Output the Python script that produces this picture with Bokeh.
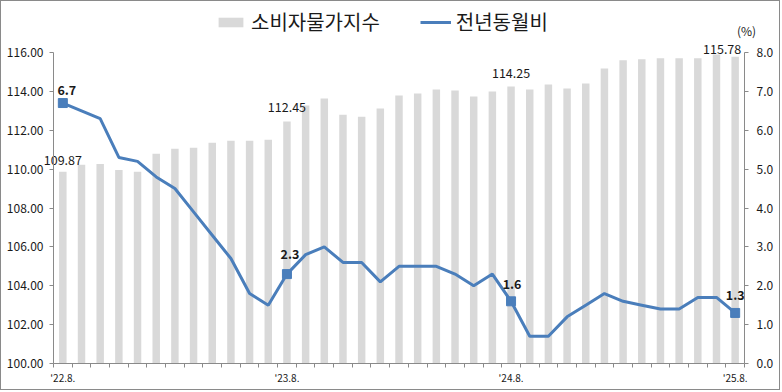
from bokeh.plotting import figure
from bokeh.models import (Range1d, LinearAxis, FixedTicker, Legend, LegendItem,
                          NumeralTickFormatter)
from bokeh.core.properties import value
from bokeh.embed import file_html
from bokeh.resources import INLINE

# ---- data ----
cpi = [109.87, 110.22, 110.27, 109.96, 109.86, 110.79, 111.05, 111.10, 111.36, 111.46,
       111.46, 111.51, 112.45, 113.27, 113.63, 112.80, 112.70, 113.12, 113.79, 113.89,
       114.10, 114.05, 113.74, 114.00, 114.25, 114.10, 114.36, 114.15, 114.41, 115.18,
       115.60, 115.65, 115.70, 115.70, 115.70, 115.90, 115.78]
yoy = [6.7, 6.5, 6.3, 5.3, 5.2, 4.8, 4.5, 3.9, 3.3, 2.7, 1.8, 1.5, 2.3, 2.8, 3.0, 2.6,
       2.6, 2.1, 2.5, 2.5, 2.5, 2.3, 2.0, 2.3, 1.6, 0.7, 0.7, 1.2, 1.5, 1.8, 1.6, 1.5,
       1.4, 1.4, 1.7, 1.7, 1.3]
tick_idx = [0, 12, 24, 36]
tick_labels = ["'22.8.", "'23.8.", "'24.8.", "'25.8."]
left_ticks = [100, 102, 104, 106, 108, 110, 112, 114, 116]
right_ticks = [0, 1, 2, 3, 4, 5, 6, 7, 8]
series_names = ["소비자물가지수", "전년동월비"]

idx = list(range(len(cpi)))
FONT = "Noto Sans CJK KR"
TXT = "#1a1a1a"
AXC = "#8a8a8a"
BAR = "#d9d9d9"
LINE = "#4a7ebb"

# ---- layout (pixels) ----
W, H = 780, 390
ML, MR, MT, MB = 52, 37, 51, 28          # plot-area margins inside the canvas
L_LO, L_HI = left_ticks[0], left_ticks[-1]
R_LO, R_HI = right_ticks[0], right_ticks[-1]
X_LO, X_HI = -0.5, len(cpi) - 0.5

# extend the ranges so that the frame covers the whole canvas (no clipping of texts)
px_x = (W - ML - MR) / (X_HI - X_LO)
px_l = (H - MT - MB) / (L_HI - L_LO)
px_r = (H - MT - MB) / (R_HI - R_LO)
x_range = Range1d(X_LO - ML / px_x, X_HI + MR / px_x)
y_range = Range1d(L_LO - MB / px_l, L_HI + MT / px_l)
r_range = Range1d(R_LO - MB / px_r, R_HI + MT / px_r)

p = figure(width=W, height=H, x_range=x_range, y_range=y_range,
           output_backend="svg", toolbar_location=None,
           min_border_left=0, min_border_right=0, min_border_top=0, min_border_bottom=0)
p.styles = {"border": "1px solid #8a8a8a"}
p.outline_line_color = None
p.xgrid.visible = False
p.ygrid.visible = False
p.extra_y_ranges = {"pct": r_range}

def style_axis(ax, size):
    ax.major_tick_in = 0
    ax.minor_tick_out = 0
    ax.minor_tick_in = 0
    ax.axis_line_color = AXC
    ax.major_tick_line_color = AXC
    ax.minor_tick_line_color = AXC
    ax.major_label_text_font = FONT
    ax.major_label_text_font_size = size
    ax.major_label_text_color = TXT

# left axis
la = p.yaxis[0]
la.ticker = FixedTicker(ticks=left_ticks)
la.formatter = NumeralTickFormatter(format="0.00")
la.fixed_location = X_LO
la.bounds = (L_LO, L_HI)
style_axis(la, "12px")
la.major_tick_out = 4
la.major_label_standoff = 6

# right axis
ra = LinearAxis(y_range_name="pct", ticker=FixedTicker(ticks=right_ticks),
                formatter=NumeralTickFormatter(format="0.0"),
                fixed_location=X_HI, bounds=(R_LO, R_HI))
style_axis(ra, "12px")
ra.major_tick_out = 4
ra.major_label_standoff = 8
p.add_layout(ra, "right")

# x axis
xa = p.xaxis[0]
xa.ticker = FixedTicker(ticks=tick_idx, minor_ticks=[i - 0.5 for i in range(len(cpi) + 1)])
xa.major_label_overrides = dict(zip(tick_idx, tick_labels))
xa.fixed_location = L_LO
xa.bounds = (X_LO, X_HI)
style_axis(xa, "10px")
xa.major_tick_out = 0
xa.minor_tick_out = 4
xa.major_label_standoff = 2

bars = p.vbar(x=idx, top=cpi, bottom=L_LO, width=0.4, fill_color=BAR, line_color=None)
line = p.line(x=idx, y=yoy, y_range_name="pct", line_color=LINE, line_width=3)
p.scatter(x=tick_idx, y=[yoy[i] for i in tick_idx], y_range_name="pct", marker="square",
          size=9, fill_color=LINE, line_color=LINE)

# bar value labels
p.text(x=tick_idx, y=[cpi[i] for i in tick_idx], text=[f"{cpi[i]:.2f}" for i in tick_idx],
       x_offset=[0, 0, 0, -13], y_offset=[-12, -15, -14, -8],
       text_align="center", text_baseline="middle", text_font=value(FONT),
       text_font_size="12.5px", text_color=TXT)
# line value labels
p.text(x=tick_idx, y=[yoy[i] for i in tick_idx], text=[f"{yoy[i]:.1f}" for i in tick_idx],
       y_range_name="pct", x_offset=[4, 3, 1, 0], y_offset=[-13, -20, -17, -18],
       text_align="center", text_baseline="middle", text_font=value(FONT),
       text_font_size="12.5px", text_font_style="bold", text_color=TXT)
# unit label
p.text(x=[X_HI], y=[R_HI], text=["(%)"], y_range_name="pct", x_offset=2,
       y_offset=-22, text_align="center", text_baseline="middle", text_font=value(FONT),
       text_font_size="12px", text_color=TXT)

legend = Legend(items=[LegendItem(label=series_names[0], renderers=[bars]),
                       LegendItem(label=series_names[1], renderers=[line])],
                orientation="horizontal", location=(214, 355),
                border_line_color=None, background_fill_alpha=0, padding=0, margin=0,
                spacing=40, glyph_width=31, glyph_height=12, label_standoff=5,
                label_text_font=FONT, label_text_font_size="20px",
                label_text_color=TXT)
p.add_layout(legend)

html = file_html(p, INLINE, title="chart")
html = html.replace("</head>", "<style>html,body{margin:0;padding:0;}</style></head>", 1)
open("out.html", "w").write(html)
